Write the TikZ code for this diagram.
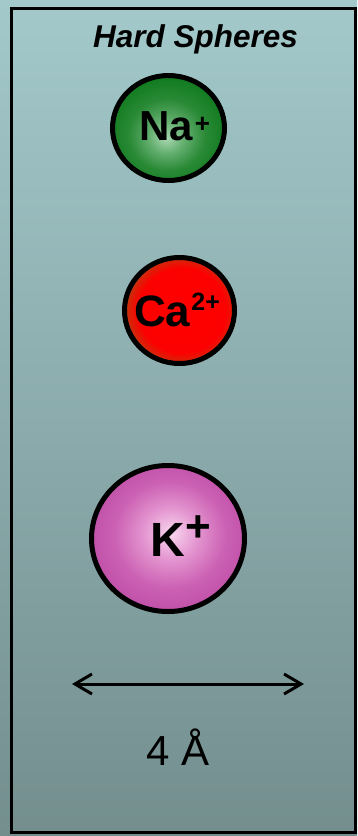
\documentclass[tikz,border=0pt]{standalone}
\usepackage{fontspec}
\setmainfont{Liberation Sans}
\usetikzlibrary{arrows.meta,shapes.geometric}
\definecolor{bgtop}{HTML}{A3C9CB}
\definecolor{bgbot}{HTML}{748E8E}
\definecolor{nac0}{HTML}{A8D8B0}
\definecolor{nac1}{HTML}{62AE6E}
\definecolor{nac2}{HTML}{2A8A36}
\definecolor{nac3}{HTML}{107A1E}
\definecolor{cac0}{HTML}{FF0000}
\definecolor{cac1}{HTML}{FC0101}
\definecolor{cac2}{HTML}{D82208}
\definecolor{cac3}{HTML}{7A6A28}
\definecolor{kc0}{HTML}{F8D6EE}
\definecolor{kc1}{HTML}{E394CF}
\definecolor{kc2}{HTML}{CC62B4}
\definecolor{kc3}{HTML}{C050A8}
\pgfdeclareradialshading{naball}{\pgfpoint{-1bp}{-5bp}}{color(0bp)=(nac0); color(8bp)=(nac1); color(17bp)=(nac2); color(27bp)=(nac3); color(50bp)=(nac3)}
\pgfdeclareradialshading{caball}{\pgfpoint{2bp}{0bp}}{color(0bp)=(cac0); color(20bp)=(cac1); color(24bp)=(cac2); color(28bp)=(cac3); color(50bp)=(cac3)}
\pgfdeclareradialshading{kball}{\pgfpoint{1bp}{2bp}}{color(0bp)=(kc0); color(9bp)=(kc1); color(18bp)=(kc2); color(26bp)=(kc3); color(50bp)=(kc3)}
\tikzset{
  ball/.style={ellipse, draw=black, line width=5pt, inner sep=0pt},
  ionlabel/.style={anchor=base west, inner sep=0pt, text=black},
  scalearrow/.style={line width=3pt, arrows={Straight Barb[length=17pt,width=20pt]-Straight Barb[length=17pt,width=20pt]}}
}
\begin{document}
\begin{tikzpicture}[x=1pt,y=-1pt]
\shade[top color=bgtop, bottom color=bgbot] (0,0) rectangle (357,836);
\useasboundingbox (0,0) rectangle (357,836);
\node[draw=black, line width=3.5pt, minimum width=344pt, minimum height=824pt, inner sep=0pt] (frame) at (183.5,420.5) {};
\node[anchor=base, inner sep=0pt, font=\fontsize{31.5}{31.5}\selectfont\bfseries\itshape] (title) at (195.5,47) {Hard Spheres};
% Na+
\node[ball, shading=naball, minimum width=112pt, minimum height=105pt] (na) at (168.5,128) {};
\node[ionlabel, font=\fontsize{42}{42}\selectfont\bfseries] (nalabel) at (139,140) {Na\kern2pt\raisebox{8pt}{\fontsize{26}{26}\selectfont +}};
% Ca2+
\node[ball, shading=caball, minimum width=110pt, minimum height=106pt] (ca) at (179.5,310.5) {};
\node[ionlabel, font=\fontsize{44}{44}\selectfont\bfseries] (calabel) at (134,326) {Ca\kern1pt\raisebox{16pt}{\fontsize{25}{25}\selectfont 2+}};
% K+
\node[ball, shading=kball, minimum width=153pt, minimum height=146pt] (k) at (168,538.5) {};
\node[ionlabel, font=\fontsize{48}{48}\selectfont\bfseries] (klabel) at (150,556) {K\kern1pt\raisebox{15pt}{\fontsize{44}{44}\selectfont +}};
% scale arrow
\coordinate (al) at (72,684);
\coordinate (ar) at (304,684);
\draw[scalearrow] (al) -- (ar);
\node[anchor=base, inner sep=0pt, font=\fontsize{42}{42}\selectfont] (dist) at (178.5,765) {4 Å};
\end{tikzpicture}
\end{document}
